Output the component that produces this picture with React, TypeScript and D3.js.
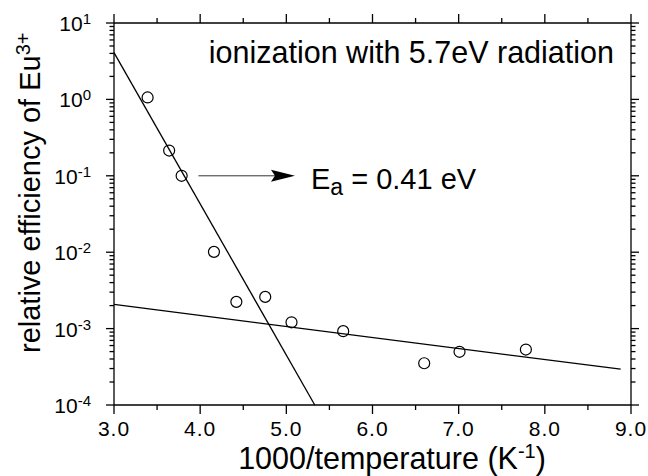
import React from 'react';
import * as d3 from 'd3';

const W = 648;
const H = 476;

// x-axis ticks (1000/T, K^-1)
const xTicks = [3, 4, 5, 6, 7, 8, 9];
const xTickLabels = ['3.0', '4.0', '5.0', '6.0', '7.0', '8.0', '9.0'];
const xMinorTicks = [3.5, 4.5, 5.5, 6.5, 7.5, 8.5];

// y-axis decades (log10 exponents)
const yDecades = [-4, -3, -2, -1, 0, 1];
const yExpLabels = ['-4', '-3', '-2', '-1', '0', '1'];

// measured points
const invTemp = [3.39, 3.64, 3.785, 4.16, 4.42, 4.755, 5.06, 5.66, 6.6, 7.01, 7.78];
const efficiency = [1.06, 0.214, 0.1, 0.0101, 0.00224, 0.0026, 0.00121, 0.000925, 0.000352, 0.000497, 0.000532];

// fit lines (endpoints)
const steepFitX = [3.0, 5.33];
const steepFitY = [4.1, 1e-4];
const shallowFitX = [3.0, 8.88];
const shallowFitY = [0.00207, 0.000294];

const FONT = "'Liberation Sans', Arial, Helvetica, sans-serif";

export default function App() {
  const x = d3.scaleLinear().domain([3, 9]).range([114, 631]);
  const y = d3.scaleLog().domain([1e-4, 10]).range([405, 23]);
  const x0 = x(3), x1 = x(9), y0 = y(1e-4), y1 = y(10);

  const line = d3
    .line<[number, number]>()
    .x((d) => x(d[0]))
    .y((d) => y(d[1]));

  const steep = steepFitX.map((v, i) => [v, steepFitY[i]] as [number, number]);
  const shallow = shallowFitX.map((v, i) => [v, shallowFitY[i]] as [number, number]);

  const yMinor: number[] = [];
  yDecades.slice(0, -1).forEach((d) => {
    for (let m = 2; m <= 9; m++) yMinor.push(m * Math.pow(10, d));
  });

  const sw = 1.3;
  const arrowY = y(0.1);
  const arrowX0 = x(3.98);
  const arrowX1 = x(5.1);

  return (
    <svg
      width={W}
      height={H}
      style={{ position: 'absolute', left: 0, top: 0, background: '#fff' }}
      fontFamily={FONT}
    >
      <rect x={0} y={0} width={W} height={H} fill="#fff" />
      {/* frame */}
      <g stroke="#000" strokeWidth={sw} fill="none">
        <line x1={x0} x2={x1} y1={y0} y2={y0} />
        <line x1={x0} x2={x1} y1={y1} y2={y1} />
        <line x1={x0} x2={x0} y1={y0} y2={y1} />
        <line x1={x1} x2={x1} y1={y0} y2={y1} />
        {xTicks.map((t) => (
          <g key={'xt' + t}>
            <line x1={x(t)} x2={x(t)} y1={y0} y2={y0 + 9} />
            <line x1={x(t)} x2={x(t)} y1={y1} y2={y1 - 9} />
          </g>
        ))}
        {xMinorTicks.map((t) => (
          <g key={'xm' + t}>
            <line x1={x(t)} x2={x(t)} y1={y0} y2={y0 + 5} />
            <line x1={x(t)} x2={x(t)} y1={y1} y2={y1 - 5} />
          </g>
        ))}
        {yDecades.map((d) => (
          <g key={'yt' + d}>
            <line x1={x0} x2={x0 - 8} y1={y(Math.pow(10, d))} y2={y(Math.pow(10, d))} />
            <line x1={x1} x2={x1 + 8} y1={y(Math.pow(10, d))} y2={y(Math.pow(10, d))} />
          </g>
        ))}
        {yMinor.map((v, i) => (
          <g key={'ym' + i}>
            <line x1={x0} x2={x0 - 4.5} y1={y(v)} y2={y(v)} />
            <line x1={x1} x2={x1 + 4.5} y1={y(v)} y2={y(v)} />
          </g>
        ))}
      </g>

      {/* x tick labels */}
      {xTicks.map((t, i) => (
        <text key={'xl' + t} x={x(t)} y={y0 + 31} textAnchor="middle" fontSize={21} letterSpacing={1} fill="#000">
          {xTickLabels[i]}
        </text>
      ))}
      {/* y tick labels */}
      {yDecades.map((d, i) => (
        <text key={'yl' + d} x={91} y={y(Math.pow(10, d)) + 8} textAnchor="end" fontSize={21} fill="#000">
          <tspan>10</tspan>
          <tspan dy={-7} fontSize={15}>{yExpLabels[i]}</tspan>
        </text>
      ))}

      {/* axis titles */}
      <text x={392} y={469} textAnchor="middle" fontSize={30.5} fill="#000">
        <tspan>1000/temperature (K</tspan>
        <tspan dy={-11} fontSize={20}>-1</tspan>
        <tspan dy={11}>)</tspan>
      </text>
      <text transform="translate(40,353) rotate(-90)" fontSize={29} fill="#000">
        <tspan>relative efficiency of Eu</tspan>
        <tspan dy={-10} fontSize={20}>3+</tspan>
      </text>

      {/* annotation */}
      <text x={614} y={63} textAnchor="end" fontSize={30.5} fill="#000">
        ionization with 5.7eV radiation
      </text>
      <line x1={arrowX0} x2={arrowX1 - 20} y1={arrowY} y2={arrowY} stroke="#333" strokeWidth={1} />
      <path
        d={`M${arrowX1},${arrowY} L${arrowX1 - 24},${arrowY - 6} L${arrowX1 - 20},${arrowY} L${arrowX1 - 24},${arrowY + 6} Z`}
        fill="#000"
      />
      <text x={arrowX1 + 16} y={arrowY + 13} fontSize={29} fill="#000">
        <tspan>E</tspan>
        <tspan dy={6} fontSize={23}>a</tspan>
        <tspan dy={-6}> = 0.41 eV</tspan>
      </text>

      {/* fit lines */}
      <path d={line(steep) || ''} fill="none" stroke="#000" strokeWidth={1.3} />
      <path d={line(shallow) || ''} fill="none" stroke="#000" strokeWidth={1.3} />

      {/* points */}
      {invTemp.map((t, i) => (
        <circle key={'p' + i} cx={x(t)} cy={y(efficiency[i])} r={5.5} fill="none" stroke="#000" strokeWidth={1.2} />
      ))}
    </svg>
  );
}
